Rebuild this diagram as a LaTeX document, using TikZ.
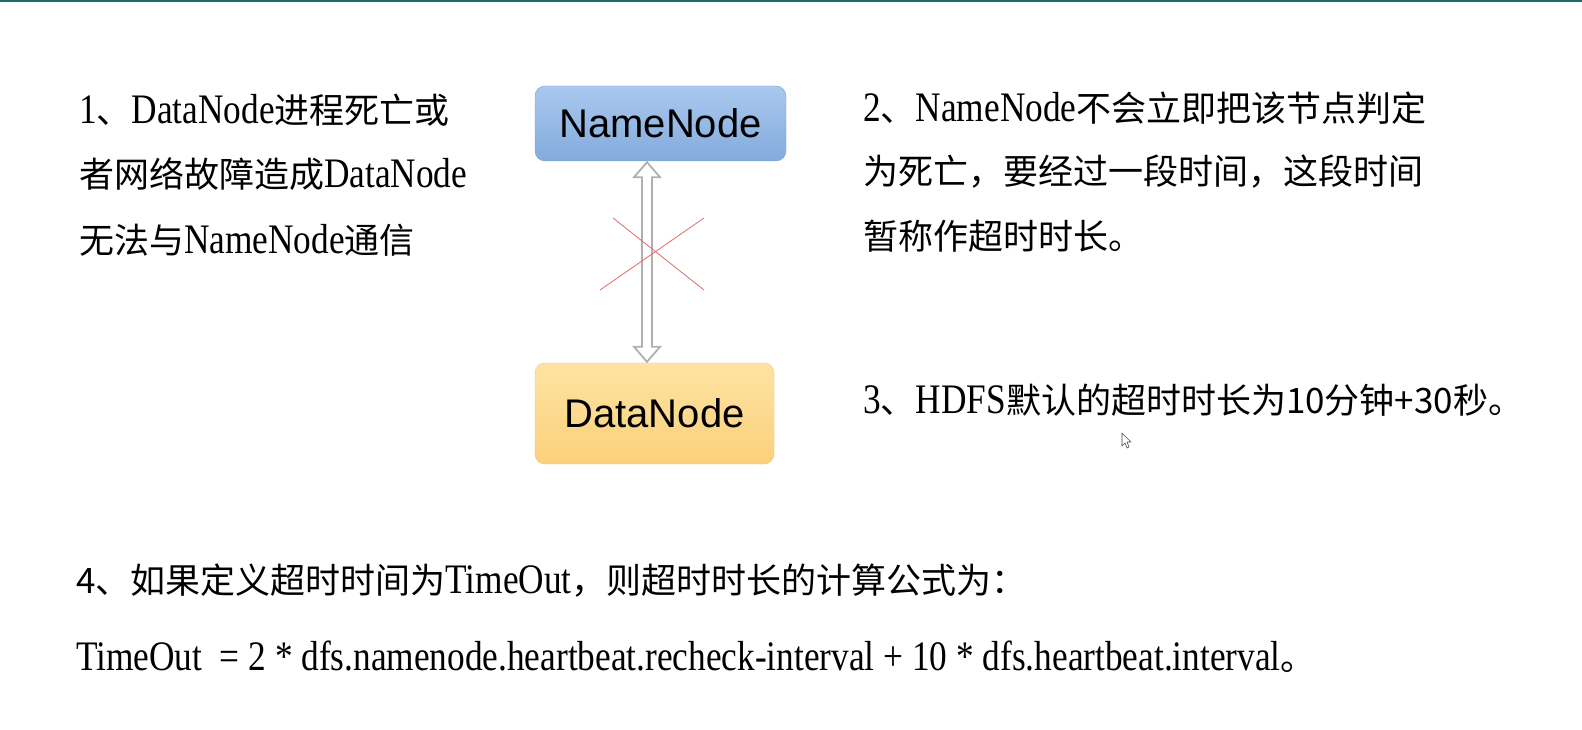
\documentclass[tikz,border=0pt]{standalone}
\usepackage{fontspec}
\setmainfont[FakeStretch=0.84]{Liberation Serif}
\newfontfamily\cjkf{Noto Sans CJK SC}
\newfontfamily\arialf{Liberation Sans}
\usetikzlibrary{calc}
\definecolor{topline}{HTML}{1E6B66}
\definecolor{nntop}{HTML}{A9C8EE}
\definecolor{nnbot}{HTML}{84ABDD}
\definecolor{nnborder}{HTML}{7DA3D6}
\definecolor{dntop}{HTML}{FEE3A3}
\definecolor{dnbot}{HTML}{FBD07A}
\definecolor{dnborder}{HTML}{F2C468}
\definecolor{arrowgray}{HTML}{B0B0B0}
\definecolor{crossred}{HTML}{E26A6A}
\newcommand\zh[1]{{\cjkf\fontsize{35}{35}\selectfont #1}}
\tikzset{
  txt/.style={anchor=base west, inner sep=0pt, font=\fontsize{42}{42}\selectfont},
  boxnode/.style={rounded corners=10pt, inner sep=0pt, font=\arialf\fontsize{40}{40}\selectfont},
}
\begin{document}
\begin{tikzpicture}[x=1pt,y=-1pt]
\useasboundingbox (0,0) rectangle (1582,730);
\fill[white] (0,0) rectangle (1582,730);
\fill[topline] (0,0) rectangle (1582,2.5);

% nodes
\node[boxnode, draw=nnborder, top color=nntop, bottom color=nnbot,
      minimum width=251pt, minimum height=75pt] (nn) at (660.5,123.5) {NameNode};
\node[boxnode, draw=dnborder, top color=dntop, bottom color=dnbot,
      minimum width=239pt, minimum height=101pt] (dn) at (654.5,413.5) {DataNode};

% hollow double arrow
\coordinate (ax) at (647,0);
\coordinate (atop) at (nn.south -| ax);
\coordinate (abot) at (dn.north -| ax);
\draw[arrowgray, fill=white, line width=1.8pt, line join=miter]
  ($(atop)+(0,1)$) -- ++(13,15) -- ++(-8,0) |- ($(abot)+(5,-16)$)
  -- ++(8,0) -- ($(abot)+(0,-1)$) -- ++(-13,-15) -- ++(8,0)
  |- ($(atop)+(-5,16)$) -- ++(-8,0) -- cycle;

% red cross
\coordinate (c1) at (613,218);
\coordinate (c2) at (704,290);
\coordinate (c3) at (704,218);
\coordinate (c4) at (600,290);
\draw[crossred, line width=0.8pt] (c1) -- (c2);
\draw[crossred, line width=0.8pt] (c3) -- (c4);

% left block
\node[txt] (l1) at (79,124) {1\zh{、}DataNode\zh{进程死亡或}};
\node[txt] (l2) at (79,188) {\zh{者网络故障造成}DataNode};
\node[txt] (l3) at (79,253) {\zh{无法与}NameNode\zh{通信}};

% right block
\node[txt] (r1) at (863,122) {2\zh{、}NameNode\zh{不会立即把该节点判定}};
\node[txt] (r2) at (863,185) {\zh{为死亡，要经过一段时间，这段时间}};
\node[txt] (r3) at (863,250) {\zh{暂称作超时时长。}};
\node[txt] (r4) at (863,413) {3\zh{、}HDFS\zh{默认的超时时长为10分钟+30秒。}};

% mouse cursor
\draw[black!70, fill=white, line width=0.6pt, line join=round]
  (1122,433) -- (1122,446) -- (1125,443) -- (1127,448) -- (1129,447)
  -- (1127,442) -- (1131,442) -- cycle;

% bottom
\node[txt] (b1) at (76,593) {\zh{4、如果定义超时时间为}TimeOut\zh{，则超时时长的计算公式为：}};
\node[txt] (b2) at (76,670) {TimeOut\ \ = 2 * dfs.namenode.heartbeat.recheck-interval + 10 * dfs.heartbeat.interval\zh{。}};
\end{tikzpicture}
\end{document}
